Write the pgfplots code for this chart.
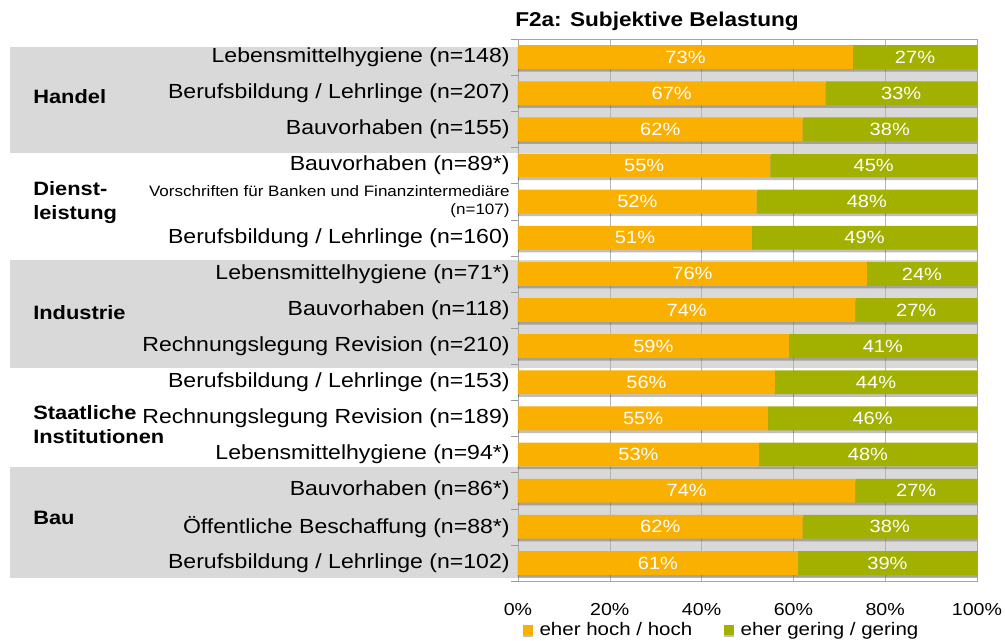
\documentclass[border=0pt]{standalone}
\usepackage{fontspec}
\setmainfont{Liberation Sans}[FakeStretch=1.13]
\usepackage{pgfplots}
\usepackage{pgfplotstable}
\pgfplotsset{compat=1.18}
\usetikzlibrary{shadows}

\definecolor{hochcol}{RGB}{249,176,0}
\definecolor{geringcol}{RGB}{162,176,0}
\definecolor{bandgray}{RGB}{217,217,217}
\definecolor{gridgray}{RGB}{180,180,180}

% row, share hoch, share gering, printed labels
\pgfplotstableread{
row hoch gering hochlbl geringlbl
0  73   27   73 27
1  67   33   67 33
2  62   38   62 38
3  55   45   55 45
4  52   48   52 48
5  51   49   51 49
6  76   24   76 24
7  73.5 26.5 74 27
8  59   41   59 41
9  56   44   56 44
10 54.5 45.5 55 46
11 52.5 47.5 53 48
12 73.5 26.5 74 27
13 62   38   62 38
14 61   39   61 39
}\datatab

\begin{document}
\begin{tikzpicture}
\path[use as bounding box] (-388.5pt,-44.25pt) rectangle (365.25pt,435.75pt);

% group bands
\fill[bandgray] (-381pt,400.5pt) rectangle (345pt,321pt);
\fill[bandgray] (-381pt,240.75pt) rectangle (345pt,159.75pt);
\fill[bandgray] (-381pt,85.5pt) rectangle (345pt,2.25pt);

\begin{axis}[
  at={(0pt,0pt)}, anchor=south west,
  scale only axis,
  width=344.25pt, height=406.5pt,
  xbar stacked,
  bar width=0.66,
  xmin=0, xmax=100,
  ymin=-0.5, ymax=14.5,
  y dir=reverse,
  axis line style={gray!70},
  xtick={0,20,...,100},
  xticklabel={\pgfmathprintnumber{\tick}\%},
  /pgf/number format/assume math mode=true,
  xtick pos=bottom,
  major x tick style={draw=none},
  xmajorgrids,
  grid style={gridgray},
  xticklabel style={font=\fontsize{13}{15}\selectfont, yshift=-9pt},
  ytick={0,...,14},
  major y tick style={draw=none},
  minor ytick={-0.5,0.5,...,14.5},
  minor tick length=5pt,
  tick align=outside,
  ytick pos=left,
  minor y tick style={gray!80},
  yticklabel style={font=\fontsize{15.3}{18}\selectfont, xshift=1.5pt},
  yticklabels={
    Lebensmittelhygiene (n=148),
    Berufsbildung / Lehrlinge (n=207),
    Bauvorhaben (n=155),
    Bauvorhaben (n=89*),
    {{\fontsize{11.3}{13.5}\selectfont\begin{tabular}{@{}r@{}}Vorschriften für Banken und Finanzintermediäre\\(n=107)\end{tabular}}},
    Berufsbildung / Lehrlinge (n=160),
    Lebensmittelhygiene (n=71*),
    Bauvorhaben (n=118),
    Rechnungslegung Revision (n=210),
    Berufsbildung / Lehrlinge (n=153),
    Rechnungslegung Revision (n=189),
    Lebensmittelhygiene (n=94*),
    Bauvorhaben (n=86*),
    Öffentliche Beschaffung (n=88*),
    Berufsbildung / Lehrlinge (n=102)
  },
  point meta=explicit,
  nodes near coords={\pgfmathprintnumber{\pgfplotspointmeta}\%},
  every node near coord/.append style={anchor=center, text=white,
    font=\fontsize{13.3}{15}\selectfont},
  legend style={draw=none, fill=none, legend columns=2,
    at={(0.002,-0.09)}, anchor=west,
    font=\fontsize{13.6}{16}\selectfont,
    /tikz/every odd column/.append style={column sep=3pt},
    /tikz/every even column/.append style={column sep=22pt}},
  legend image code/.code={\fill[#1] (0pt,-3.6pt) rectangle (7.3pt,3.6pt);},
  clip=false,
]
\addplot[fill=hochcol, draw=none,
  drop shadow={shadow xshift=0pt, shadow yshift=-2pt, opacity=0.25, fill=black}]
  table[x=hoch, y=row, meta=hochlbl] {\datatab};
\addplot[fill=geringcol, draw=none,
  drop shadow={shadow xshift=0pt, shadow yshift=-2pt, opacity=0.25, fill=black}]
  table[x=gering, y=row, meta=geringlbl] {\datatab};
\legend{eher hoch / hoch, eher gering / gering}
\end{axis}

\begin{scope}[every node/.style={anchor=west, align=left, inner sep=0pt,
  font=\bfseries\fontsize{14.5}{18}\selectfont}]
\node at (-363.75pt,363pt) {Handel};
\node at (-363.75pt,283.9pt) {Dienst-\\leistung};
\node at (-363.75pt,201pt) {Industrie};
\node at (-363.75pt,117pt) {Staatliche\\Institutionen};
\node at (-363.75pt,47.25pt) {Bau};
\end{scope}
\node[anchor=west, inner sep=0pt, font=\bfseries\fontsize{15}{18}\selectfont]
  at (-2.25pt,419.5pt) {F2a: Subjektive Belastung};
\end{tikzpicture}
\end{document}
